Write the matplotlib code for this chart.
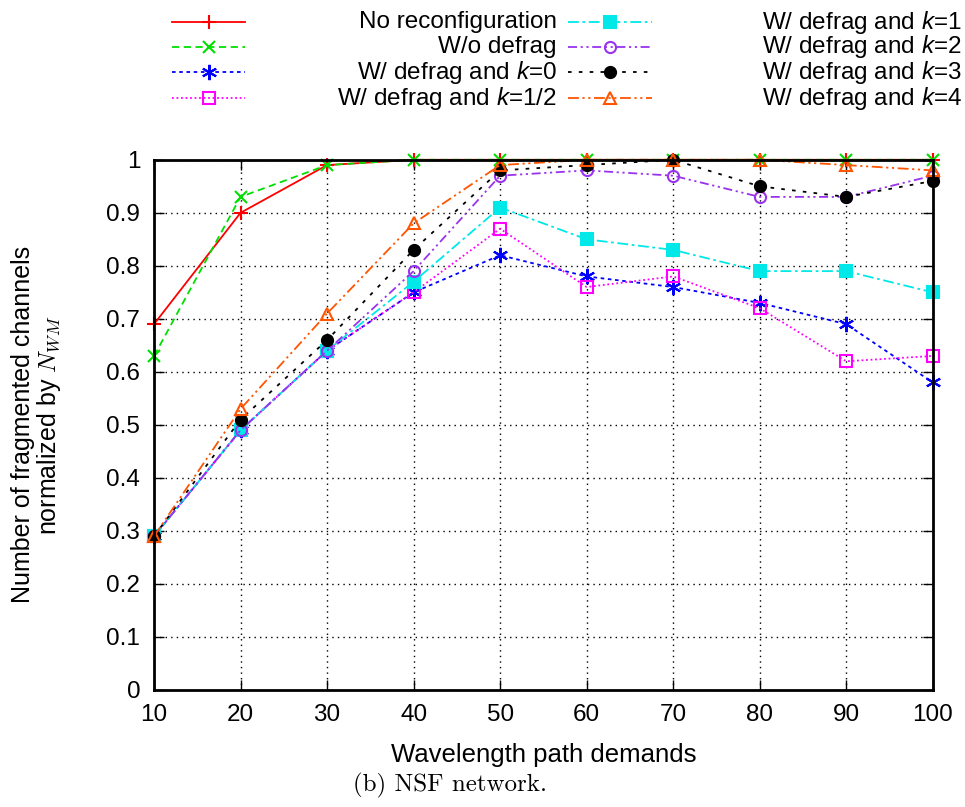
import numpy as np
import matplotlib
matplotlib.use("Agg")
import matplotlib.pyplot as plt
from matplotlib.lines import Line2D

plt.rcParams['font.family'] = ['Liberation Sans', 'DejaVu Sans']
plt.rcParams['mathtext.fontset'] = 'custom'
plt.rcParams['mathtext.rm'] = 'Liberation Sans'
plt.rcParams['mathtext.it'] = 'Liberation Sans:italic'

demands = [10, 20, 30, 40, 50, 60, 70, 80, 90, 100]

no_reconf = [0.69, 0.90, 0.99, 1.00, 1.00, 1.00, 1.00, 1.00, 1.00, 1.00]
wo_defrag = [0.63, 0.93, 0.99, 1.00, 1.00, 1.00, 1.00, 1.00, 1.00, 1.00]
k0 = [0.29, 0.49, 0.64, 0.75, 0.82, 0.78, 0.76, 0.73, 0.69, 0.58]
k_half = [0.29, 0.49, 0.64, 0.75, 0.87, 0.76, 0.78, 0.72, 0.62, 0.63]
k1 = [0.29, 0.49, 0.64, 0.77, 0.91, 0.85, 0.83, 0.79, 0.79, 0.75]
k2 = [0.29, 0.49, 0.64, 0.79, 0.97, 0.98, 0.97, 0.93, 0.93, 0.97]
k3 = [0.29, 0.51, 0.66, 0.83, 0.98, 0.99, 1.00, 0.95, 0.93, 0.96]
k4 = [0.29, 0.53, 0.71, 0.88, 0.99, 1.00, 1.00, 1.00, 0.99, 0.98]

labels = ["No reconfiguration", "W/o defrag", r"W/ defrag and $k$=0",
          r"W/ defrag and $k$=1/2", r"W/ defrag and $k$=1",
          r"W/ defrag and $k$=2", r"W/ defrag and $k$=3",
          r"W/ defrag and $k$=4"]
series = [no_reconf, wo_defrag, k0, k_half, k1, k2, k3, k4]

# color, marker, markerfacecolor, dashes, markersize
styles = [
    ('#ff0000', '+', 'none', None, 10),
    ('#00e000', 'x', 'none', (4, 2.5), 9),
    ('#0000ff', (6, 2, 0), 'none', (2, 2), 11),
    ('#ff00ff', 's', 'none', (1, 1.5), 8),
    ('#00e8e8', 's', 'full', (6, 2, 1.5, 2), 8),
    ('#9933ee', 'o', 'none', (5, 2, 1.2, 2, 1.2, 2), 8),
    ('#000000', 'o', 'full', (2, 4), 8),
    ('#ff5500', '^', 'none', (6, 2, 1.2, 2, 1.2, 2), 8),
]

fig = plt.figure(figsize=(9.65, 8.07), dpi=100)
ax = fig.add_axes([0.1596, 0.145, 0.807, 0.657])

for y, (c, m, fc, d, ms) in zip(series, styles):
    kw = dict(color=c, marker=m, markersize=ms, lw=1.3, markeredgewidth=1.5)
    if fc == 'none':
        kw['markerfacecolor'] = 'none'
    ln, = ax.plot(demands, y, **kw)
    if d is not None:
        ln.set_dashes(d)
    ln.set_clip_on(False)

ax.set_xlim(10, 100)
ax.set_ylim(0, 1)
ax.set_xticks(demands)
ax.set_yticks(np.arange(0, 1.01, 0.1))
ax.set_yticklabels(['0', '0.1', '0.2', '0.3', '0.4', '0.5', '0.6', '0.7', '0.8', '0.9', '1'])
ax.tick_params(direction='in', length=7, width=1, labelsize=17.5, top=True, right=True, pad=10)
ax.grid(True, color='black', linestyle=(0, (1, 3)), lw=1)
for s in ax.spines.values():
    s.set_linewidth(2)

ax.set_xlabel("Wavelength path demands", fontsize=18.5, labelpad=12)
ax.set_ylabel("Number of fragmented channels\nnormalized by $N_{WM}$", fontsize=18,
              labelpad=31, math_fontfamily='cm', linespacing=1.0)

fig.text(0.466, 0.027, "(b) NSF network.", family='cmr10', ha='center', va='center', fontsize=18)

# legend drawn gnuplot style: sample then right aligned text
lg = fig.add_axes([0, 0, 1, 1], facecolor='none')
lg.set_xlim(0, 965)
lg.set_ylim(807, 0)
lg.axis('off')
rows = [22, 47, 72, 98]
cols = [(172, 245, 557), (568, 652, 962)]
for i, (lab, (c, m, fc, d, ms)) in enumerate(zip(labels, styles)):
    col = cols[i // 4]
    yy = rows[i % 4]
    ln = Line2D([col[0], col[1]], [yy, yy], color=c, lw=1.3)
    if d is not None:
        ln.set_dashes(d)
    lg.add_line(ln)
    mk = Line2D([(col[0] + col[1]) / 2], [yy], color=c, marker=m, markersize=ms,
                markeredgewidth=1.5, markerfacecolor=('none' if fc == 'none' else c))
    lg.add_line(mk)
    lg.text(col[2], yy, lab, ha='right', va='center', fontsize=17.5)

fig.savefig("out.png", dpi=100)
